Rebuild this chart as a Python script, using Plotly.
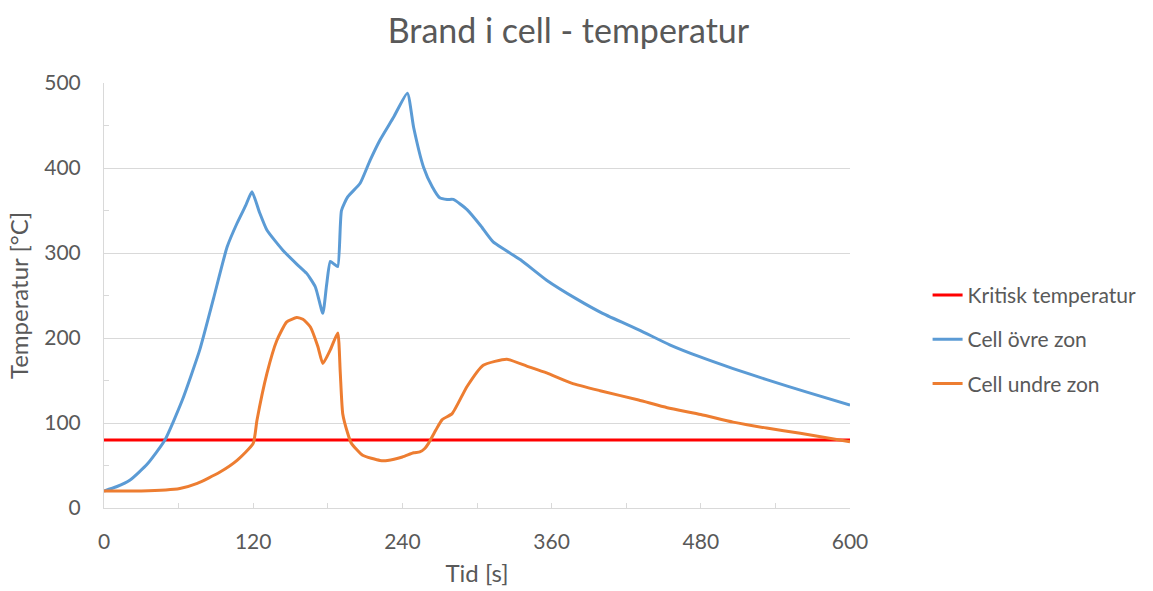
import plotly.graph_objects as go

title_text = "Brand i cell - temperatur"
x_title = "Tid [s]"
y_title = "Temperatur [°C]"

# Kritisk temperatur
crit_t = [0, 600]
crit_T = [80, 80]

# Cell övre zon
upper_t = [0, 10, 21, 35, 49, 63, 77, 88, 99, 107, 114, 119, 125, 131, 144, 155, 163, 170, 176,
           179, 182, 185, 188, 191, 196, 206, 214, 222, 233, 244, 249, 257, 264, 270, 276, 281,
           292, 303, 313, 335, 356, 380, 401, 431, 455, 479, 506, 533, 566, 600]
upper_T = [20, 25, 33, 52, 80, 127, 186, 246, 307, 335, 356, 372, 348, 327, 303, 287, 276, 260, 229,
           262, 290, 287, 284, 350, 366, 382, 409, 433, 460, 488, 448, 401, 378, 365, 363, 363,
           351, 332, 313, 292, 268, 246, 229, 209, 192, 178, 164, 151, 136, 121]

# Cell undre zon
lower_t = [0, 30, 61, 75, 93, 107, 120, 123, 131, 139, 147, 155, 160, 166, 172, 176, 182, 188, 190,
           192, 196, 199, 208, 222, 228, 240, 249, 254, 258, 261, 267, 272, 280, 292, 305, 324, 340,
           356, 376, 399, 430, 453, 480, 506, 533, 560, 600]
lower_T = [20, 20, 23, 29, 42, 56, 76, 103, 158, 197, 219, 224, 222, 213, 190, 170, 186, 206, 160,
           111, 88, 76, 62, 56, 56, 60, 65, 66, 70, 76, 92, 104, 111, 143, 168, 175, 167,
           159, 147, 138, 127, 118, 110, 101, 94, 88, 78]

grey = "#595959"
grid = "#d9d9d9"
font_family = "Lato, 'Open Sans', sans-serif"

fig = go.Figure()
fig.add_trace(go.Scatter(x=crit_t, y=crit_T, mode="lines", name="Kritisk temperatur",
                         line=dict(color="#ff0000", width=3), legendgroup="a"))
fig.add_trace(go.Scatter(x=upper_t, y=upper_T, mode="lines", name="Cell övre zon",
                         line=dict(color="#5b9bd5", width=3, shape="spline", smoothing=0.5),
                         legendgroup="b"))
fig.add_trace(go.Scatter(x=lower_t, y=lower_T, mode="lines", name="Cell undre zon",
                         line=dict(color="#ed7d31", width=3, shape="spline", smoothing=0.5),
                         legendgroup="c"))

fig.update_layout(
    width=1153, height=591,
    paper_bgcolor="white", plot_bgcolor="white",
    margin=dict(l=104, r=303, t=83, b=83, autoexpand=False),
    font=dict(family=font_family, color=grey, size=21),
    title=dict(text=title_text, x=0.493, xanchor="center", y=0.947, yanchor="middle",
               font=dict(size=34, color=grey, family=font_family)),
    showlegend=True,
    legend=dict(x=1.104, xanchor="left", y=0.397, yanchor="middle",
                traceorder="grouped", tracegroupgap=14,
                font=dict(size=21, color=grey), bgcolor="rgba(0,0,0,0)"),
    xaxis=dict(range=[0, 600], dtick=120, tick0=0, showgrid=False, automargin=False,
               showline=True, linecolor=grid, linewidth=1,
               ticks="inside", ticklen=5, tickcolor=grid,
               minor=dict(dtick=60, ticks="inside", ticklen=5, tickcolor=grid),
               ticklabelstandoff=15, zeroline=False,
               title=dict(text=x_title, standoff=12, font=dict(size=24, color=grey)),
               tickfont=dict(size=21, color=grey)),
    yaxis=dict(range=[0, 500], dtick=100, tick0=0, showgrid=True, gridcolor=grid, gridwidth=1,
               automargin=False,
               showline=True, linecolor=grid, linewidth=1,
               ticks="inside", ticklen=5, tickcolor=grid,
               minor=dict(dtick=50, ticks="inside", ticklen=5, tickcolor=grid, showgrid=False),
               ticklabelstandoff=18, zeroline=False,
               title=dict(text=y_title, standoff=8, font=dict(size=24, color=grey)),
               tickfont=dict(size=21, color=grey)),
)

fig.write_html("out.html")
